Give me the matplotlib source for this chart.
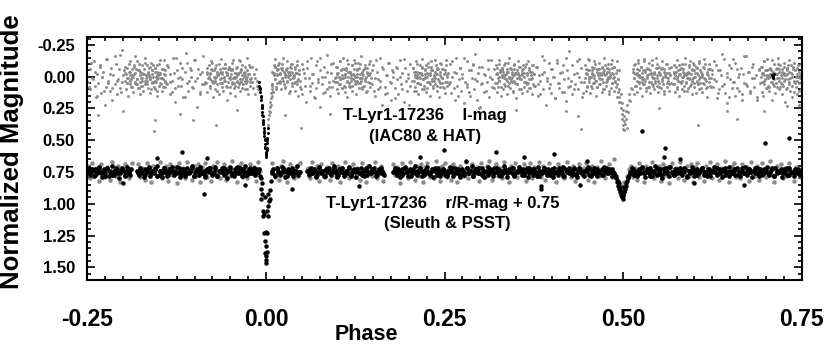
import numpy as np
import matplotlib
matplotlib.use("Agg")
import matplotlib.pyplot as plt
from matplotlib.ticker import MultipleLocator

# ---------------- DATA ----------------
# I-mag (IAC80 & HAT) grey points: phase in units of 0.001, magnitude in units of 0.01
i_grey_phase = [
 -249,-247,-246,-244,-241,-240,-238,-236,-235,-233,
 -231,-229,-228,-226,-224,-222,-221,-219,-217,-216,
 -214,-212,-210,-209,-207,-205,-204,-202,-201,-199,
 -198,-197,-196,-194,-193,-192,-191,-190,-188,-187,
 -186,-185,-184,-183,-182,-180,-179,-178,-177,-176,
 -175,-174,-173,-172,-170,-169,-168,-167,-166,-165,
 -164,-163,-162,-161,-160,-159,-158,-157,-156,-155,
 -154,-153,-152,-151,-150,-149,-148,-147,-146,-145,
 -144,-143,-142,-141,-140,
 -197,-195,-191,-189,-185,-181,-178,-174,-171,-168,
 -165,-162,-159,-156,-153,-150,-147,-144,-141,-152,
 -139,-137,-135,-134,-132,-130,-128,-127,-125,-123,
 -121,-119,-118,-116,-114,-112,-110,-109,-107,-105,
 -103,-101,-99,-97,-95,-93,-92,-90,-88,-86,
 -84,-83,-82,-80,-79,-78,-77,-76,-74,-73,
 -72,-71,-70,-69,-68,-66,-65,-64,-63,-62,
 -61,-60,-59,-58,-56,-55,-54,-53,-52,-51,
 -50,-49,-48,-47,-46,-45,-44,-43,-42,-41,
 -40,-39,-38,-37,-36,-35,-34,-33,-32,-31,
 -30,-29,-28,-27,-26,-25,-24,-23,-22,-21,
 -83,-79,-75,-71,-67,-63,-59,-55,-51,-47,
 -43,-39,-35,-31,-27,-23,-57,-45,-37,-29,
 -20,-19,-18,-17,-16,-15,-14,-13,-12,-11,
 8,9,10,11,12,13,14,15,16,17,
 18,19,20,21,22,23,24,25,26,27,
 28,29,30,31,32,33,34,35,36,37,
 38,39,40,41,42,43,44,45,46,47,
 11,15,19,23,27,31,35,39,43,13,
 48,50,51,53,55,56,58,60,61,63,
 65,66,68,70,71,73,75,76,78,80,
 81,83,85,86,88,90,91,93,94,96,
 97,98,99,100,101,102,103,104,105,106,
 107,108,109,110,111,112,113,114,115,116,
 117,118,119,120,121,122,123,124,125,126,
 127,128,129,130,131,132,133,134,135,136,
 137,138,139,140,141,142,143,144,145,146,
 99,103,107,111,115,119,123,127,131,135,
 148,150,152,153,155,157,159,160,162,164,
 166,168,169,171,173,175,176,178,180,182,
 184,185,187,189,191,193,195,197,199,202,
 205,206,207,208,209,210,211,212,213,214,
 215,216,217,218,219,220,221,222,223,224,
 225,226,227,228,229,230,231,232,233,234,
 235,236,237,238,239,240,241,242,243,244,
 245,246,247,248,249,250,251,252,253,254,
 207,211,215,219,223,227,231,235,239,243,
 256,258,259,261,263,265,266,268,270,272,
 273,275,277,279,281,282,284,286,288,290,
 292,293,295,297,299,301,303,305,307,309,
 311,313,315,317,319,
 321,322,323,324,325,326,327,328,329,330,
 331,332,333,334,335,336,337,338,339,340,
 341,342,343,344,345,346,347,348,349,350,
 351,352,353,354,355,356,357,358,359,360,
 361,362,363,364,365,366,367,368,369,370,
 371,372,373,374,375,
 323,327,331,335,339,343,347,351,355,359,
 377,379,381,383,384,386,388,390,392,394,
 396,398,399,401,403,405,407,409,410,412,
 414,416,418,420,422,423,425,427,429,431,
 433,435,437,439,441,443,
 446,447,448,449,450,451,452,453,454,455,
 456,457,458,459,460,461,462,463,464,465,
 466,467,468,469,470,471,472,473,474,475,
 476,477,478,479,480,481,482,483,484,485,
 486,487,488,489,490,491,492,493,494,495,
 448,452,456,460,464,468,472,476,480,484,
 513,514,515,516,517,518,519,520,521,522,
 523,524,525,526,527,528,529,530,531,532,
 533,534,535,536,537,538,539,540,541,542,
 543,544,545,546,547,548,549,550,551,552,
 553,554,555,556,557,558,559,560,561,562,
 563,564,565,566,567,
 515,519,523,527,531,535,539,543,547,551,
 570,571,572,573,574,575,576,577,578,579,
 580,581,582,583,584,585,586,587,588,589,
 590,591,592,593,594,595,596,597,598,599,
 600,601,602,603,604,605,606,607,608,609,
 610,611,612,613,614,615,616,617,618,619,
 620,621,622,623,624,
 572,576,580,584,588,592,596,600,604,608,
 626,628,630,632,633,635,637,639,641,643,
 645,646,648,650,652,654,656,657,659,661,
 663,665,667,668,670,672,674,676,678,680,
 682,684,686,688,690,
 692,693,694,695,696,697,698,699,700,701,
 702,703,704,705,706,707,708,709,710,711,
 712,713,714,715,716,717,718,719,720,721,
 722,723,724,725,726,727,728,729,730,731,
 732,733,734,735,736,737,738,739,740,741,
 742,743,744,745,746,747,748,749,
 694,698,702,706,710,714,718,722,726,730,
]
i_grey_mag = [
 4,-6,10,1,-12,7,16,-2,5,-9,
 13,0,-4,22,8,-14,3,11,-7,18,
 -1,6,-10,14,2,-17,9,4,-21,-5,
 3,-8,10,1,15,-4,6,-12,8,0,
 12,-2,5,-16,-6,2,9,-10,4,14,
 7,-3,1,11,-15,6,-1,-9,3,9,
 -7,13,2,-11,5,-5,0,8,-4,10,
 4,-9,15,1,7,-2,-13,6,-6,11,
 2,-13,8,-1,5,
 -3,5,-1,2,-9,6,-5,3,-2,1,
 -4,0,4,-7,2,-3,1,-6,3,-1,
 6,-8,14,-2,3,-15,9,20,-5,1,
 -11,7,2,16,-4,-19,5,11,-7,0,
 8,-13,3,24,-6,12,-2,6,-16,4,
 5,-7,12,0,-3,9,-12,3,16,-5,
 1,10,-9,6,-2,14,-6,2,-14,8,
 -4,11,0,-10,7,-1,18,4,-8,2,
 13,-5,6,-11,1,9,-3,15,-7,3,
 -1,8,-13,4,11,-6,2,-9,6,0,
 10,-4,5,-15,3,14,-2,7,-8,1,
 -2,2,-5,4,-1,-4,3,-3,0,-6,
 1,-2,4,-3,0,2,-7,5,-4,3,
 4,-8,9,-2,14,1,-6,7,3,10,
 6,-4,12,-9,2,-14,8,-1,5,-6,
 -11,3,-3,10,-7,1,-15,6,-2,9,
 -5,-12,4,-1,13,-8,2,-4,7,-10,
 0,5,-6,11,-3,-9,3,15,-2,8,
 -3,-6,-2,-5,0,-4,-7,-1,-3,-8,
 3,-10,14,-3,7,20,-7,1,11,-15,
 5,-2,17,9,-12,2,24,-5,6,13,
 -8,0,10,-17,4,15,-3,8,-11,1,
 4,-8,10,-3,13,0,-12,6,-5,9,
 1,-15,7,-2,12,-7,3,16,-10,5,
 -4,8,-1,11,-9,2,-13,6,0,14,
 -6,3,-11,9,-2,5,-16,1,10,-5,
 7,-9,2,12,-3,-7,4,-1,8,-12,
 -2,2,-6,0,-4,3,-1,-5,1,-3,
 6,-9,15,1,-4,10,-15,3,22,-6,
 8,-1,13,-11,4,18,-5,0,9,-8,
 2,14,-13,6,-3,20,-7,11,1,-10,
 3,-7,11,-1,8,-12,5,-4,14,0,
 -9,6,-2,10,-14,2,7,-6,1,12,
 -3,9,-11,4,-1,15,-8,3,-5,7,
 0,-13,6,-2,11,-7,2,16,-4,8,
 -10,1,5,-6,9,-3,13,-9,4,-1,
 -4,1,-3,-7,0,-2,-5,3,-6,-1,
 6,-10,13,0,-4,18,-15,7,2,-7,
 11,-2,21,4,-12,8,-5,15,1,-9,
 10,-18,3,-3,25,6,-8,12,-1,4,
 -6,16,-13,2,9,
 5,-9,12,-2,8,-13,3,-5,15,0,
 -7,10,-1,6,-11,2,14,-4,7,-15,
 1,9,-6,4,-2,12,-9,3,-3,17,
 -5,6,-12,0,10,-8,2,-1,13,-6,
 8,-3,4,-10,11,-1,5,-7,9,-4,
 2,14,-9,6,-2,
 -3,0,-5,-1,-4,2,-6,-2,1,-3,
 7,-8,15,-1,3,-16,10,-4,22,1,
 -11,6,13,-6,0,17,-13,5,9,-3,
 12,-9,2,19,-5,8,-20,3,14,-2,
 6,-12,10,0,-7,16,
 4,-9,11,-2,7,-14,2,-5,13,0,
 -8,9,-1,5,-12,3,15,-6,8,-3,
 1,-11,6,-2,12,-7,4,-15,10,-1,
 7,-4,2,-10,14,-6,0,9,-13,5,
 -2,11,-8,3,8,-5,16,2,10,20,
 -3,0,-5,-1,-6,2,-4,-2,1,-7,
 10,-6,14,1,-10,7,-3,12,-13,4,
 -1,9,-8,2,15,-5,6,-14,3,11,
 -7,0,8,-11,4,13,-3,6,-9,1,
 10,-4,3,-15,7,-1,12,-8,5,-2,
 9,-12,2,6,-6,14,-3,0,-10,8,
 3,-7,11,-1,5,
 -3,-1,-5,0,-4,-6,-2,1,-7,-3,
 6,-9,1,12,-4,8,-13,3,-1,15,
 -6,5,-10,10,0,-3,7,-15,4,11,
 -2,9,-8,2,-12,6,14,-5,1,-9,
 8,-3,13,-7,3,-1,10,-11,5,-4,
 12,0,-8,6,-14,2,9,-2,16,-6,
 4,-10,7,1,-5,
 -4,0,-2,-6,-1,-3,2,-5,-7,0,
 8,-12,3,17,-5,10,-1,-18,6,13,
 -3,21,-9,2,9,-14,4,15,-6,0,
 11,-7,18,-2,5,-16,7,-4,13,1,
 -10,8,-1,16,-5,
 5,-8,12,-2,15,-12,3,-5,9,0,
 -14,7,-1,11,-7,4,18,-3,6,-10,
 2,13,-6,8,-2,-15,10,1,-9,5,
 14,-4,7,-11,3,20,-1,9,-7,2,
 -13,6,11,-3,16,0,-8,4,12,-5,
 8,-2,14,-9,5,22,1,10,
 -3,-1,-5,0,-4,-2,-6,1,-3,-7,
]

# second I-mag grey set (HAT nights): phase in 0.001, magnitude in 0.01
i_grey2_phase = [
 -196,-195,-194,-193,-192,-191,-190,-189,-188,-187,
 -186,-185,-184,-183,-182,-181,-180,-179,-178,-177,
 -176,-175,-174,-173,-172,-171,-170,-169,-168,-167,
 -166,-165,-164,-163,-162,-161,-160,-159,-158,-157,
 -156,-155,-154,-153,-152,-151,-150,-149,-148,-147,
 -146,-145,-144,-143,-142,-141,
 -82,-81,-80,-79,-78,-77,-76,-75,-74,-73,
 -72,-71,-70,-69,-68,-67,-66,-65,-64,-63,
 -62,-61,-60,-59,-58,-57,-56,-55,-54,-53,
 -52,-51,-50,-49,-48,-47,-46,-45,-44,-43,
 -42,-41,-40,-39,-38,-37,-36,-35,-34,-33,
 -32,-31,-30,-29,-28,-27,-26,-25,-24,-23,
 9,10,11,12,13,14,15,16,17,18,
 19,20,21,22,23,24,25,26,27,28,
 29,30,31,32,33,34,35,36,37,38,
 39,40,41,42,43,44,45,46,
 98,99,100,101,102,103,104,105,106,107,
 108,109,110,111,112,113,114,115,116,117,
 118,119,120,121,122,123,124,125,126,127,
 128,129,130,131,132,133,134,135,136,137,
 138,139,140,141,142,143,144,145,146,147,
 206,207,208,209,210,211,212,213,214,215,
 216,217,218,219,220,221,222,223,224,225,
 226,227,228,229,230,231,232,233,234,235,
 236,237,238,239,240,241,242,243,244,245,
 246,247,248,249,250,251,252,253,254,255,
 322,323,324,325,326,327,328,329,330,331,
 332,333,334,335,336,337,338,339,340,341,
 342,343,344,345,346,347,348,349,350,351,
 352,353,354,355,356,357,358,359,360,361,
 362,363,364,365,366,367,368,369,370,371,
 372,373,374,375,376,
 447,448,449,450,451,452,453,454,455,456,
 457,458,459,460,461,462,463,464,465,466,
 467,468,469,470,471,472,473,474,475,476,
 477,478,479,480,481,482,483,484,485,486,
 487,488,489,490,491,492,493,494,
 514,515,516,517,518,519,520,521,522,523,
 524,525,526,527,528,529,530,531,532,533,
 534,535,536,537,538,539,540,541,542,543,
 544,545,546,547,548,549,550,551,552,553,
 554,555,556,557,558,559,560,561,562,563,
 564,565,566,567,
 571,572,573,574,575,576,577,578,579,580,
 581,582,583,584,585,586,587,588,589,590,
 591,592,593,594,595,596,597,598,599,600,
 601,602,603,604,605,606,607,608,609,610,
 611,612,613,614,615,616,617,618,619,620,
 621,622,623,624,
 693,694,695,696,697,698,699,700,701,702,
 703,704,705,706,707,708,709,710,711,712,
 713,714,715,716,717,718,719,720,721,722,
 723,724,725,726,727,728,729,730,731,732,
 733,734,735,736,737,738,739,740,741,742,
 743,744,745,746,747,748,749,
 -248,-245,-242,-239,-236,-233,-230,-227,-224,-221,
 -218,-215,-212,-209,-206,-203,-200,
 -138,-135,-132,-129,-126,-123,-120,-117,-114,-111,
 -108,-105,-102,-99,-96,-93,-90,-87,
 49,52,55,58,61,64,67,70,73,76,
 79,82,85,88,91,94,
 148,151,154,157,160,163,166,169,172,175,
 178,181,184,187,190,193,196,199,202,
 257,260,263,266,269,272,275,278,281,284,
 287,290,293,296,299,302,305,308,311,314,
 317,320,
 378,381,384,387,390,393,396,399,402,405,
 408,411,414,417,420,423,426,429,432,435,
 438,441,444,
 627,630,633,636,639,642,645,648,651,654,
 657,660,663,666,669,672,675,678,681,684,
 687,690,
]
i_grey2_mag = [
 -2,5,-7,1,-10,3,-4,8,-1,-6,
 0,-8,4,-3,6,-12,2,-5,9,-1,
 -4,1,-9,7,-2,-6,3,-11,5,0,
 6,-3,-1,-8,2,10,-5,-2,-9,4,
 -7,3,0,-4,11,-1,-10,5,-3,1,
 1,-6,8,-2,-5,4,
 -4,1,-9,7,-2,-6,3,-11,5,0,
 -7,3,0,-4,11,-1,-10,5,-3,1,
 -2,5,-7,1,-10,3,-4,8,-1,-6,
 1,-6,8,-2,-5,4,-13,0,7,-3,
 0,-8,4,-3,6,-12,2,-5,9,-1,
 6,-3,-1,-8,2,10,-5,-2,-9,4,
 6,-3,-1,-8,2,10,-5,-2,-9,4,
 -2,5,-7,1,-10,3,-4,8,-1,-6,
 -7,3,0,-4,11,-1,-10,5,-3,1,
 0,-8,4,-3,6,-12,2,-5,
 0,-8,4,-3,6,-12,2,-5,9,-1,
 1,-6,8,-2,-5,4,-13,0,7,-3,
 -4,1,-9,7,-2,-6,3,-11,5,0,
 -2,5,-7,1,-10,3,-4,8,-1,-6,
 -7,3,0,-4,11,-1,-10,5,-3,1,
 -7,3,0,-4,11,-1,-10,5,-3,1,
 6,-3,-1,-8,2,10,-5,-2,-9,4,
 0,-8,4,-3,6,-12,2,-5,9,-1,
 -4,1,-9,7,-2,-6,3,-11,5,0,
 1,-6,8,-2,-5,4,-13,0,7,-3,
 -2,5,-7,1,-10,3,-4,8,-1,-6,
 -4,1,-9,7,-2,-6,3,-11,5,0,
 -7,3,0,-4,11,-1,-10,5,-3,1,
 6,-3,-1,-8,2,10,-5,-2,-9,4,
 0,-8,4,-3,6,-12,2,-5,9,-1,
 -4,1,-9,7,-2,
 1,-6,8,-2,-5,4,-13,0,7,-3,
 -2,5,-7,1,-10,3,-4,8,-1,-6,
 6,-3,-1,-8,2,10,-5,-2,-9,4,
 -7,3,0,-4,11,-1,-10,5,-3,1,
 0,-8,4,-3,6,-12,2,-5,
 -4,1,-9,7,-2,-6,3,-11,5,0,
 0,-8,4,-3,6,-12,2,-5,9,-1,
 1,-6,8,-2,-5,4,-13,0,7,-3,
 -2,5,-7,1,-10,3,-4,8,-1,-6,
 -7,3,0,-4,11,-1,-10,5,-3,1,
 6,-3,-1,-8,
 6,-3,-1,-8,2,10,-5,-2,-9,4,
 -7,3,0,-4,11,-1,-10,5,-3,1,
 -4,1,-9,7,-2,-6,3,-11,5,0,
 0,-8,4,-3,6,-12,2,-5,9,-1,
 -2,5,-7,1,-10,3,-4,8,-1,-6,
 1,-6,8,-2,
 0,-8,4,-3,6,-12,2,-5,9,-1,
 1,-6,8,-2,-5,4,-13,0,7,-3,
 -2,5,-7,1,-10,3,-4,8,-1,-6,
 6,-3,-1,-8,2,10,-5,-2,-9,4,
 -4,1,-9,7,-2,-6,3,-11,5,0,
 -7,3,0,-4,11,-1,-10,
 8,-11,2,-4,15,-8,0,11,-14,5,
 -2,9,-16,3,-6,12,-1,
 -9,4,12,-3,-15,7,0,-7,16,-11,
 3,-5,9,-13,1,14,-4,6,
 10,-6,1,-12,7,-2,16,-9,4,-15,
 0,12,-4,8,-10,3,
 -5,11,-13,2,8,-8,14,-1,-11,5,
 -4,17,-7,0,10,-14,3,-2,7,
 4,-12,9,-3,15,-7,1,-15,6,12,
 -5,-10,2,18,-8,5,-2,11,-13,0,
 8,-6,
 -8,6,14,-2,-13,3,9,-6,0,17,
 -11,5,-4,12,-15,1,7,-9,10,-3,
 -14,4,13,
 2,-9,13,-5,7,-14,0,16,-7,4,
 -11,9,-2,14,-16,6,-4,11,-8,1,
 18,-6,
]

# I-mag grey points in the eclipses and scattered outliers (phase, magnitude)
i_faint_phase = [0.0030,0.0035,0.0040,0.0045,0.0050,0.0055,0.0060,0.0065,0.0070,0.0075,0.0080,0.0085,0.0090,0.0095,
                 0.4935,0.4950,0.4960,0.4965,0.4975,0.4980,0.4985,0.4990,0.4995,0.5000,0.5005,0.5010,
                 0.5015,0.5020,0.5030,0.5035,0.5040,0.5050,0.5060,0.5070,0.5080,0.5090,0.5100,0.5110,
                 -0.157,-0.156,-0.102,-0.070,-0.200,-0.120,0.027,0.049,0.437,0.441,0.350,0.605,
                 0.660,0.645,0.698,-0.235,0.160,0.300,0.550,0.730,-0.040,0.090,0.200,0.420]
i_faint_mag = [0.38,0.33,0.30,0.27,0.24,0.28,0.20,0.17,0.22,0.13,0.10,0.15,0.07,0.12,
               0.12,0.16,0.20,0.14,0.25,0.21,0.33,0.29,0.38,0.26,0.41,0.35,
               0.31,0.42,0.37,0.27,0.33,0.40,0.22,0.28,0.18,0.14,0.19,0.09,
               0.43,0.34,0.34,0.38,0.27,0.29,0.30,0.40,0.31,0.41,0.26,0.38,
               0.33,0.27,0.27,0.30,0.28,0.24,0.25,0.23,0.26,0.29,0.22,0.27]

# I-mag black points (primary-eclipse ingress and a clump near phase 0.71)
i_black_phase = [-0.0100,-0.0092,-0.0085,-0.0080,-0.0074,-0.0068,-0.0062,-0.0057,-0.0052,-0.0047,
                 -0.0042,-0.0037,-0.0032,-0.0027,-0.0022,-0.0018,-0.0014,-0.0010,-0.0006,-0.0002,
                 0.0002,0.0006,0.0010,0.0014,0.0018,0.0022,0.0026,
                 -0.0088,-0.0071,-0.0060,-0.0049,-0.0039,-0.0029,-0.0020,-0.0012,-0.0004,0.0008,0.0016,
                 0.7090,0.7100,0.7110,0.7105,0.7095]
i_black_mag = [0.04,0.07,0.10,0.12,0.15,0.18,0.22,0.25,0.28,0.31,
               0.34,0.37,0.40,0.44,0.47,0.50,0.53,0.56,0.59,0.62,
               0.63,0.60,0.56,0.52,0.48,0.44,0.40,
               0.09,0.16,0.24,0.30,0.36,0.43,0.49,0.55,0.61,0.58,0.50,
               -0.01,0.00,-0.02,0.01,0.005]

# r/R-mag + 0.75 (Sleuth & PSST) grey points: phase in 0.001, magnitude in 0.01
r_grey_phase = [
 -249,-246,-243,-240,-237,-234,-231,-228,-225,-222,
 -219,-216,-213,-210,-207,-204,-201,-198,-195,-192,
 -190,-188,
 -179,-176,-173,-170,-167,-164,-161,-158,-155,-152,
 -149,-146,-143,-140,-137,-134,-131,-128,-125,-122,
 -119,-116,-113,-110,-107,-104,-101,-98,-95,-92,
 -89,-86,-83,-80,-77,-74,-71,-68,-65,-62,
 -59,-56,-53,-50,-47,-44,-41,-38,-35,-32,
 -29,-26,-23,-20,-17,-14,-11,-8,
 9,12,15,18,21,24,27,30,33,36,
 39,42,45,48,
 59,62,65,68,71,74,77,80,83,86,
 89,92,95,98,101,104,107,110,113,116,
 119,122,125,128,131,134,137,140,143,146,
 149,152,155,158,161,164,
 178,181,184,187,190,193,196,199,202,205,
 208,211,214,217,220,223,226,229,232,235,
 238,241,244,247,250,253,256,259,262,265,
 268,271,274,277,280,283,286,289,292,295,
 298,301,304,307,310,313,316,319,322,325,
 328,331,334,337,340,343,346,349,352,355,
 358,361,364,367,370,373,376,379,382,385,
 388,391,394,397,400,403,406,409,412,415,
 418,421,424,427,430,433,436,439,442,445,
 448,451,454,457,460,463,466,469,472,475,
 478,481,484,487,
 490,493,496,499,502,505,508,
 511,514,517,520,523,526,529,532,535,538,
 541,544,547,550,553,556,559,562,565,568,
 571,574,577,580,583,586,589,592,595,598,
 601,604,607,610,613,616,619,622,625,628,
 631,634,637,640,643,646,649,652,655,658,
 661,664,667,670,673,676,679,682,685,688,
 691,694,697,700,703,706,709,712,715,718,
 721,724,727,730,733,736,739,742,745,748,
]
r_grey_mag = [
 70,80,68,77,72,82,69,75,79,71,
 81,67,74,78,70,83,72,69,77,80,
 73,68,
 69,79,72,81,68,76,83,70,74,78,
 67,80,73,70,82,69,77,71,84,68,
 76,72,80,67,74,81,70,78,69,83,
 71,68,79,73,82,70,76,67,80,74,
 69,81,72,78,66,75,83,70,68,79,
 73,80,69,76,71,82,67,74,
 68,79,72,81,70,66,77,83,69,75,
 80,71,78,68,
 72,80,67,77,70,82,69,75,79,71,
 81,68,74,78,70,83,72,67,77,80,
 73,69,79,72,81,68,76,83,70,74,
 78,67,80,73,70,82,
 69,77,71,84,68,76,72,80,67,74,
 81,70,78,69,83,71,68,79,73,80,
 66,75,82,70,68,79,72,81,69,76,
 83,70,74,78,67,80,73,69,77,71,
 82,68,75,79,70,66,81,73,69,78,
 72,80,67,76,83,70,74,68,79,71,
 77,69,82,73,68,80,71,75,67,79,
 70,81,74,68,78,72,83,69,76,71,
 80,67,75,79,70,82,73,69,77,72,
 68,81,74,70,83,71,78,66,76,80,
 72,69,79,65,
 80,84,88,86,83,78,73,
 70,79,72,81,68,76,83,70,74,78,
 67,80,73,70,82,69,77,71,84,68,
 76,72,80,67,74,81,70,78,69,83,
 71,68,79,73,82,70,76,67,80,74,
 69,81,72,78,66,75,83,70,68,79,
 73,80,69,76,71,82,67,74,78,70,
 81,68,75,79,72,66,77,83,70,74,
 69,80,72,78,68,76,82,71,75,79,
]

# r/R-mag + 0.75 black points: phase in 0.001, magnitude in 0.01
r_black_phase = [
 -250,-248,-246,-243,-241,-239,-236,-234,-232,-229,
 -227,-225,-222,-220,-218,-215,-213,-211,-208,-206,
 -204,-201,-199,-197,-194,-192,-190,-189,
 -180,-178,-176,-173,-171,-169,-166,-164,-162,-159,
 -157,-155,-152,-150,-148,-145,-143,-141,-138,-136,
 -134,-131,-129,-127,-124,-122,-120,-117,-115,-113,
 -110,-108,-106,-103,-101,-99,-96,-94,-92,-89,
 -87,-85,-82,-80,-78,-75,-73,-71,-68,-66,
 -64,-61,-59,-57,-54,-52,-50,-47,-45,-43,
 -40,-38,-36,-33,-31,-29,-26,-24,-22,-19,
 -17,-15,-12,-10,-8,
 8,10,13,15,17,20,22,24,27,29,
 31,34,36,38,41,43,45,48,
 58,60,63,65,67,70,72,74,77,79,
 81,84,86,88,91,93,95,98,100,102,
 105,107,109,112,114,116,119,121,123,126,
 128,130,133,135,137,140,142,144,147,149,
 151,154,156,158,161,163,165,
 178,180,183,185,187,190,192,194,197,199,
 201,204,206,208,211,213,215,218,220,222,
 225,227,229,232,234,236,239,241,243,246,
 248,250,253,255,257,260,262,264,267,269,
 271,274,276,278,281,283,285,288,290,292,
 295,297,299,302,304,306,309,311,313,316,
 318,320,323,325,327,330,332,334,337,339,
 341,344,346,348,351,353,355,358,360,362,
 365,367,369,372,374,376,379,381,383,386,
 388,390,393,395,397,400,402,404,407,409,
 411,414,416,418,421,423,425,428,430,432,
 435,437,439,442,444,446,449,451,453,456,
 458,460,463,465,467,470,472,474,477,479,
 481,484,486,488,
 510,512,515,517,519,522,524,526,529,531,
 533,536,538,540,543,545,547,550,552,554,
 557,559,561,564,566,568,571,573,575,578,
 580,582,585,587,589,592,594,596,599,601,
 603,606,608,610,613,615,617,620,622,624,
 627,629,631,634,636,638,641,643,645,648,
 650,652,655,657,659,662,664,666,669,671,
 673,676,678,680,683,685,687,690,692,694,
 697,699,701,704,706,708,711,713,715,718,
 720,722,725,727,729,732,734,736,739,741,
 743,746,748,750,
 -249,-246,-243,-240,-237,-234,-231,-228,-225,-222,
 -219,-216,-213,-210,-207,-204,-201,-198,-195,-192,
 -179,-176,-173,-170,-167,-164,-161,-158,-155,-152,
 -149,-146,-143,-140,-137,-134,-131,-128,-125,-122,
 -119,-116,-113,-110,-107,-104,-101,-98,-95,-92,
 -89,-86,-83,-80,-77,-74,-71,-68,-65,-62,
 -59,-56,-53,-50,-47,-44,-41,-38,-35,-32,
 -29,-26,-23,-20,-17,-14,-11,
 9,12,15,18,21,24,27,30,33,36,
 39,42,45,
 59,62,65,68,71,74,77,80,83,86,
 89,92,95,98,101,104,107,110,113,116,
 119,122,125,128,131,134,137,140,143,146,
 149,152,155,158,161,164,
 179,182,185,188,191,194,197,200,203,206,
 209,212,215,218,221,224,227,230,233,236,
 239,242,245,248,251,254,257,260,263,266,
 269,272,275,278,281,284,287,290,293,296,
 299,302,305,308,311,314,317,320,323,326,
 329,332,335,338,341,344,347,350,353,356,
 359,362,365,368,371,374,377,380,383,386,
 389,392,395,398,401,404,407,410,413,416,
 419,422,425,428,431,434,437,440,443,446,
 449,452,455,458,461,464,467,470,473,476,
 479,482,485,488,
 511,514,517,520,523,526,529,532,535,538,
 541,544,547,550,553,556,559,562,565,568,
 571,574,577,580,583,586,589,592,595,598,
 601,604,607,610,613,616,619,622,625,628,
 631,634,637,640,643,646,649,652,655,658,
 661,664,667,670,673,676,679,682,685,688,
 691,694,697,700,703,706,709,712,715,718,
 721,724,727,730,733,736,739,742,745,748,
]
r_black_mag = [
 75,72,77,74,78,73,76,71,75,79,
 73,76,72,78,74,70,77,75,73,80,
 76,72,74,78,71,75,77,73,
 74,77,72,76,79,73,75,71,78,74,
 76,73,70,77,74,79,72,75,78,73,
 75,71,77,74,76,72,79,73,75,78,
 72,76,74,70,78,75,73,77,71,76,
 74,79,73,75,72,77,76,71,78,74,
 75,72,77,73,80,74,71,76,78,73,
 76,74,72,78,75,70,77,73,76,74,
 72,77,75,73,78,
 76,73,78,72,75,77,71,74,79,75,
 73,76,72,78,74,70,77,75,
 74,77,72,76,73,79,75,71,76,74,
 78,73,75,72,77,74,70,76,79,73,
 75,72,78,74,76,71,77,75,73,79,
 74,76,72,75,78,73,77,70,76,74,
 72,78,75,73,76,74,77,
 75,72,77,74,79,73,76,71,75,78,
 73,76,74,70,77,75,72,78,74,76,
 71,75,77,73,79,74,76,72,78,75,
 73,77,74,76,71,75,78,72,76,74,
 79,73,75,77,72,76,74,70,78,75,
 73,76,72,77,74,79,75,71,76,74,
 78,72,75,73,77,74,76,70,79,75,
 73,76,72,78,74,75,71,77,73,76,
 74,79,72,75,77,73,76,71,78,74,
 75,72,77,73,76,74,79,72,75,77,
 73,76,71,78,74,75,72,77,76,73,
 79,74,72,76,75,78,73,71,77,74,
 76,72,78,74,75,73,77,71,76,74,
 73,78,75,76,
 75,72,77,74,78,73,76,71,75,79,
 73,76,72,78,74,70,77,75,73,80,
 76,72,74,78,71,75,77,73,76,74,
 72,77,75,73,79,74,76,71,78,75,
 73,76,74,72,77,75,78,73,76,74,
 71,75,77,73,76,79,74,72,75,78,
 74,76,73,77,72,75,78,74,76,71,
 77,73,75,79,74,72,76,78,73,75,
 76,74,71,77,75,73,78,72,76,74,
 75,79,73,76,72,77,74,75,78,73,
 76,74,77,75,
 74,76,73,77,75,72,76,74,78,73,
 75,77,74,72,76,75,73,77,74,76,
 76,73,75,77,74,72,76,75,73,78,
 74,76,72,75,77,73,74,76,71,75,
 77,74,73,76,75,72,78,74,75,73,
 76,77,74,72,75,76,73,78,74,75,
 72,76,74,73,77,75,71,76,74,73,
 77,75,72,76,74,73,75,
 74,77,73,75,76,72,74,78,75,73,
 76,74,75,
 75,73,76,74,77,72,75,74,78,73,
 76,75,72,74,77,73,75,76,74,72,
 78,74,75,73,76,77,74,72,75,76,
 73,75,77,74,72,76,
 74,76,73,75,77,72,75,74,78,73,
 76,74,72,75,77,73,76,75,74,72,
 77,74,76,73,75,78,74,72,76,75,
 73,77,74,75,72,76,74,78,73,75,
 76,72,75,74,77,73,75,76,72,74,
 78,75,73,76,74,72,77,75,74,73,
 75,77,72,76,74,73,75,78,74,76,
 72,75,74,77,73,76,75,72,74,78,
 73,75,76,74,72,77,75,73,76,74,
 75,72,78,74,76,73,75,77,74,72,
 76,75,73,77,
 76,73,75,77,74,72,76,75,73,78,
 74,76,72,75,77,73,74,76,71,75,
 77,74,73,76,75,72,78,74,75,73,
 76,77,74,72,75,76,73,78,74,75,
 72,76,74,73,77,75,71,76,74,73,
 77,75,72,76,74,73,75,74,76,72,
 75,77,73,74,76,75,72,78,74,75,
 73,76,74,77,72,75,76,74,73,75,
]

# r/R-mag black points in the two eclipses and off-band outliers (phase, magnitude)
r_dip_phase = [-0.0066,-0.0066,-0.0074,-0.0008,0.0028,0.0050,0.0050,-0.0042,-0.0042,-0.0028,
               0.0024,0.0024,0.0020,-0.0028,0.0005,0.0020,-0.0008,0.0005,0.0019,0.0005,
               -0.0005,0.0005,-0.0015,-0.0060,0.0065,-0.0052,0.0040,
               0.4895,0.4905,0.4915,0.4925,0.4935,0.4945,0.4955,0.4960,0.4970,0.4975,
               0.4980,0.4985,0.4990,0.4995,0.5000,0.5005,0.5010,0.5015,0.5025,0.5035,
               0.5045,0.5055,0.5065,0.5075,0.5085,0.4950,0.4992,0.5020,
               -0.118,-0.087,-0.153,-0.083,0.527,0.559,0.558,0.699,0.733,0.249,
               0.322,0.362,0.403,0.216,0.385,0.385,0.440,0.037,-0.200,0.130,
               0.600,0.670,0.280,-0.030,0.450,0.580]
r_dip_mag = [0.80,0.88,0.96,0.95,0.92,0.89,0.96,1.06,1.10,1.08,
             1.02,1.10,1.06,1.23,1.22,1.23,1.29,1.33,1.38,1.41,
             1.44,1.47,1.39,0.84,0.82,0.92,0.98,
             0.78,0.80,0.83,0.82,0.86,0.88,0.87,0.91,0.90,0.93,
             0.94,0.92,0.95,0.96,0.93,0.94,0.90,0.91,0.88,0.86,
             0.84,0.82,0.80,0.79,0.77,0.84,0.91,0.87,
             0.59,0.92,0.64,0.64,0.43,0.56,0.63,0.52,0.48,0.58,
             0.59,0.63,0.61,0.63,0.86,0.88,0.85,0.88,0.84,0.86,
             0.84,0.85,0.66,0.85,0.66,0.65]

x_ticks = [-0.25, 0.00, 0.25, 0.50, 0.75]
x_tick_labels = ["-0.25", "0.00", "0.25", "0.50", "0.75"]
y_ticks = [-0.25, 0.00, 0.25, 0.50, 0.75, 1.00, 1.25, 1.50]
y_tick_labels = ["-0.25", "0.00", "0.25", "0.50", "0.75", "1.00", "1.25", "1.50"]

# ---------------- FIGURE ----------------
plt.rcParams["font.family"] = ["Liberation Sans", "DejaVu Sans"]

fig = plt.figure(figsize=(8.30, 3.53), dpi=100)
ax = fig.add_axes([0.1054, 0.2068, 0.8603, 0.6875])

GREY = "#8a8a8a"
ax.plot(np.array(i_grey_phase) / 1000.0, np.array(i_grey_mag) / 100.0, ls="none",
        marker="o", ms=2.1, mew=0, color=GREY)
ax.plot(np.array(i_grey2_phase) / 1000.0, np.array(i_grey2_mag) / 100.0, ls="none",
        marker="o", ms=2.1, mew=0, color=GREY)
ax.plot(i_faint_phase, i_faint_mag, ls="none", marker="o", ms=2.1, mew=0, color=GREY)
ax.plot(i_black_phase, i_black_mag, ls="none", marker="o", ms=2.2, mew=0, color="black")

ax.plot(np.array(r_grey_phase) / 1000.0, np.array(r_grey_mag) / 100.0, ls="none",
        marker="o", ms=3.2, mew=0, color=GREY)
ax.plot(np.array(r_black_phase) / 1000.0, np.array(r_black_mag) / 100.0, ls="none",
        marker="o", ms=3.4, mew=0, color="black")
ax.plot(r_dip_phase, r_dip_mag, ls="none", marker="o", ms=3.2, mew=0, color="black")

ax.set_xlim(-0.25, 0.75)
ax.set_ylim(1.60, -0.31)

ax.set_xticks(x_ticks)
ax.set_yticks(y_ticks)
ax.xaxis.set_minor_locator(MultipleLocator(0.025))
ax.yaxis.set_minor_locator(MultipleLocator(0.05))
ax.tick_params(which="both", direction="in", top=True, right=True, width=1.2)
ax.tick_params(which="major", length=6)
ax.tick_params(which="minor", length=3)
for s in ax.spines.values():
    s.set_linewidth(1.5)

ax.set_xticklabels(x_tick_labels, fontdict=dict(size=16.5, weight="bold"))
ax.set_yticklabels(y_tick_labels, fontdict=dict(size=12, weight="bold"))
ax.tick_params(axis="x", which="major", pad=20)
ax.tick_params(axis="y", which="major", pad=9)

fig.text(366 / 830, 1 - 335 / 353, "Phase", ha="center", va="center",
         fontsize=15.5, fontweight="bold")
fig.text(12 / 830, 1 - 152 / 353, "Normalized Magnitude", ha="center", va="center",
         rotation=90, fontsize=18.5, fontweight="bold")

tfont = dict(size=12, weight="bold")
ax.text(0.2227, 0.303, "T-Lyr1-17236    I-mag", ha="center", va="center", fontdict=tfont)
ax.text(0.2227, 0.474, "(IAC80 & HAT)", ha="center", va="center", fontdict=tfont)
ax.text(0.2475, 0.998, "T-Lyr1-17236    r/R-mag + 0.75", ha="center", va="center", fontdict=tfont)
ax.text(0.2542, 1.156, "(Sleuth & PSST)", ha="center", va="center", fontdict=tfont)

fig.savefig("out.png", dpi=100)
